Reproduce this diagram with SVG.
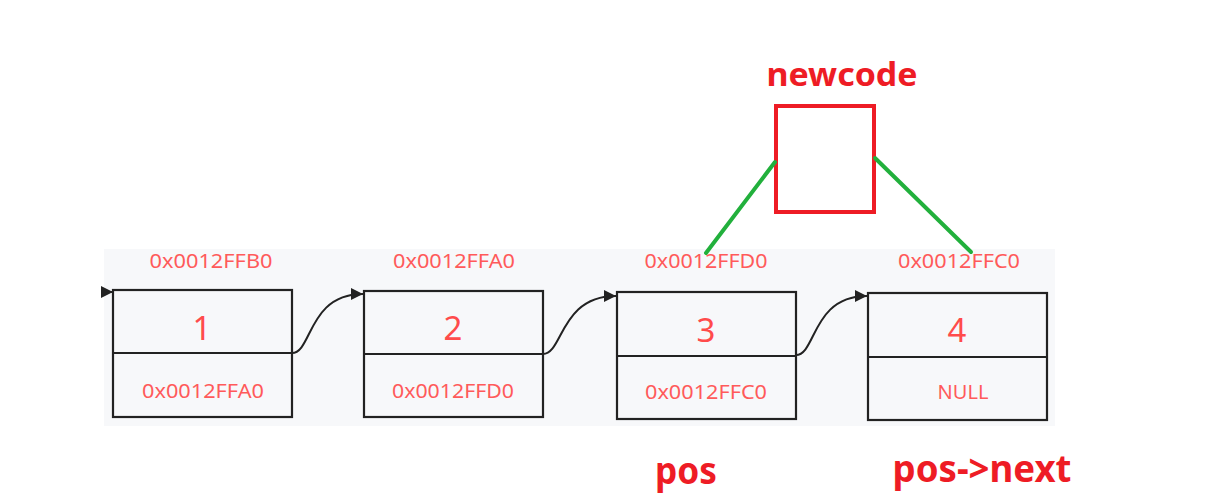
<svg xmlns="http://www.w3.org/2000/svg" width="1211" height="500" viewBox="0 0 1211 500">
<style>
.box{fill:none;stroke:#222;stroke-width:2.2}
.addr{font-family:"Noto Sans","Liberation Sans",sans-serif;font-size:20px;fill:#ff5a5a;text-anchor:middle}
.val{font-family:"Noto Sans","Liberation Sans",sans-serif;font-size:33px;fill:#ff4b4b;text-anchor:middle}
.lbl{font-family:"Noto Sans","Liberation Sans",sans-serif;font-weight:bold;fill:#ee1c25;text-anchor:middle}
.conn{fill:none;stroke:#222;stroke-width:2}
.green{stroke:#22b03c;stroke-width:4;stroke-linecap:round}
</style>
<defs>
<marker id="ah" viewBox="0 0 10 10" refX="10" refY="5" markerWidth="6" markerHeight="6" orient="auto" markerUnits="strokeWidth">
<path d="M0,0 L10,5 L0,10 z" fill="#222"/>
</marker>
</defs>
<rect width="1211" height="500" fill="#fff"/>
<rect x="104" y="249" width="951" height="177" fill="#f7f8fa"/>
<g id="node1">
<text class="addr" x="211" y="268" textLength="123" lengthAdjust="spacingAndGlyphs">0x0012FFB0</text>
<rect class="box" x="113" y="290" width="179" height="127"/>
<line class="box" x1="113" y1="353" x2="292" y2="353"/>
<text class="val" x="202" y="340">1</text>
<text class="addr" x="203" y="398" textLength="122" lengthAdjust="spacingAndGlyphs">0x0012FFA0</text>
</g>
<g id="node2">
<text class="addr" x="454" y="268" textLength="122" lengthAdjust="spacingAndGlyphs">0x0012FFA0</text>
<rect class="box" x="364" y="291" width="179" height="126"/>
<line class="box" x1="364" y1="354" x2="543" y2="354"/>
<text class="val" x="453" y="340">2</text>
<text class="addr" x="453" y="398" textLength="122" lengthAdjust="spacingAndGlyphs">0x0012FFD0</text>
</g>
<g id="node3">
<text class="addr" x="706" y="268" textLength="123" lengthAdjust="spacingAndGlyphs">0x0012FFD0</text>
<rect class="box" x="617" y="292" width="179" height="127"/>
<line class="box" x1="617" y1="356" x2="796" y2="356"/>
<text class="val" x="706" y="342">3</text>
<text class="addr" x="706" y="399" textLength="122" lengthAdjust="spacingAndGlyphs">0x0012FFC0</text>
</g>
<g id="node4">
<text class="addr" x="959" y="268" textLength="122" lengthAdjust="spacingAndGlyphs">0x0012FFC0</text>
<rect class="box" x="868" y="293" width="179" height="127"/>
<line class="box" x1="868" y1="357" x2="1047" y2="357"/>
<text class="val" x="957" y="342">4</text>
<text class="addr" x="963" y="399">NULL</text>
</g>
<g id="newcode">
<text class="lbl" x="842" y="86" font-size="33" textLength="151" lengthAdjust="spacingAndGlyphs">newcode</text>
<rect x="776" y="106" width="98" height="106" fill="none" stroke="#ee1c25" stroke-width="4"/>
</g>
<g id="labels">
<text class="lbl" x="686" y="484" font-size="37" textLength="62" lengthAdjust="spacingAndGlyphs">pos</text>
<text class="lbl" x="982" y="482" font-size="37" textLength="179" lengthAdjust="spacingAndGlyphs">pos-&gt;next</text>
</g>
<g id="connectors">
<line class="conn" x1="104" y1="292" x2="113" y2="292" marker-end="url(#ah)"/>
<path class="conn" d="M292,353 C312,353 308,294 363,294" marker-end="url(#ah)"/>
<path class="conn" d="M543,354 C563,354 560,296 616,296" marker-end="url(#ah)"/>
<path class="conn" d="M796,355 C816,355 812,296 867,296" marker-end="url(#ah)"/>
<line class="green" x1="775" y1="162" x2="706" y2="253"/>
<line class="green" x1="875" y1="158" x2="971" y2="252"/>
</g>
</svg>
